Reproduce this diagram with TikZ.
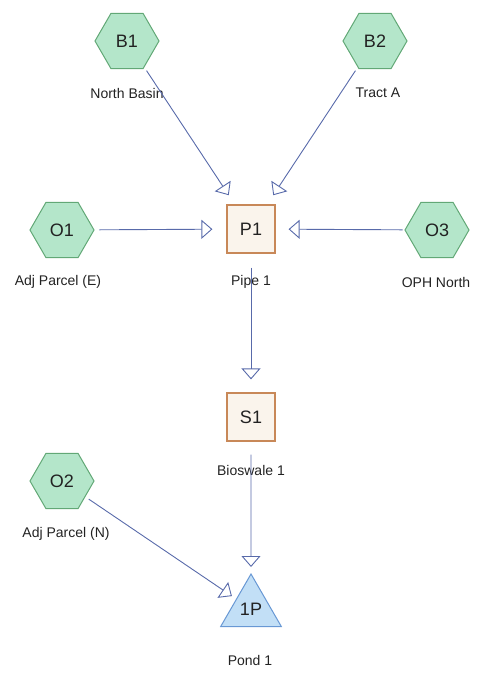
\documentclass[tikz,border=0pt]{standalone}
\usepackage{fontspec}
\setmainfont{Liberation Sans}
\usetikzlibrary{shapes.geometric,arrows.meta}

\definecolor{hexfill}{RGB}{180,230,202}
\definecolor{hexline}{RGB}{98,168,118}
\definecolor{boxfill}{RGB}{250,244,236}
\definecolor{boxline}{RGB}{200,136,88}
\definecolor{trifill}{RGB}{194,223,246}
\definecolor{triline}{RGB}{104,152,212}
\definecolor{flow}{RGB}{88,106,170}
\definecolor{ink}{RGB}{34,34,34}

\begin{document}
\begin{tikzpicture}[x=1pt,y=-1pt,
  every node/.style={text=ink},
  subcatch/.style={regular polygon, regular polygon sides=6, minimum size=64pt,
    inner sep=0pt, fill=hexfill, draw=hexline, line width=1pt,
    font=\fontsize{18}{20}\selectfont},
  reach/.style={rectangle, minimum size=48pt, inner sep=0pt, fill=boxfill,
    draw=boxline, line width=1.2pt, font=\fontsize{18}{20}\selectfont},
  pond/.style={regular polygon, regular polygon sides=3, minimum size=70pt,
    inner sep=0pt, fill=trifill, draw=triline, line width=1pt,
    font=\fontsize{18}{20}\selectfont},
  caption/.style={font=\fontsize{14}{16}\selectfont, inner sep=0pt},
  link/.style={draw=flow, line width=0.9pt,
    -{Triangle[open, length=11pt, width=19pt, line width=0.9pt]}}
]
\useasboundingbox (0,0) rectangle (483,677);

% subcatchments
\node[subcatch] (B1) at (127,41) {B1};
\node[subcatch] (B2) at (375,41) {B2};
\node[subcatch] (O1) at (62,230) {O1};
\node[subcatch] (O3) at (437,230) {O3};
\node[subcatch] (O2) at (62,481) {O2};

% reaches and pond
\node[reach] (P1) at (251,229) {P1};
\node[reach] (S1) at (251,417) {S1};
\node[pond] (1P) at (251,609) {1P};

% captions
\node[caption] (cB1) at (127,93) {North Basin};
\node[caption] (cB2) at (378,93) {Tract A};
\node[caption] (cO1) at (58,282) {Adj Parcel (E)};
\node[caption] (cP1) at (251,282) {Pipe 1};
\node[caption] (cO3) at (436,282) {OPH North};
\node[caption] (cS1) at (251,470) {Bioswale 1};
\node[caption] (cO2) at (66,534) {Adj Parcel (N)};
\node[caption] (c1P) at (250,660) {Pond 1};

% flow links
\draw[link, shorten <=4pt, shorten >=11pt] (B1) -- (P1);
\draw[link, shorten <=4pt, shorten >=11pt] (B2) -- (P1);
\draw[link, shorten <=5pt, shorten >=14pt] (O1) -- (P1);
\draw[link, shorten <=2pt, shorten >=13pt] (O3) -- (P1);
\draw[link, shorten <=14pt, shorten >=13pt] (P1) -- (S1);
\draw[link, shorten <=13pt, shorten >=6pt] (S1) -- (1P);
\draw[link, shorten <=4pt, shorten >=5pt] (O2) -- (1P);
\end{tikzpicture}
\end{document}
